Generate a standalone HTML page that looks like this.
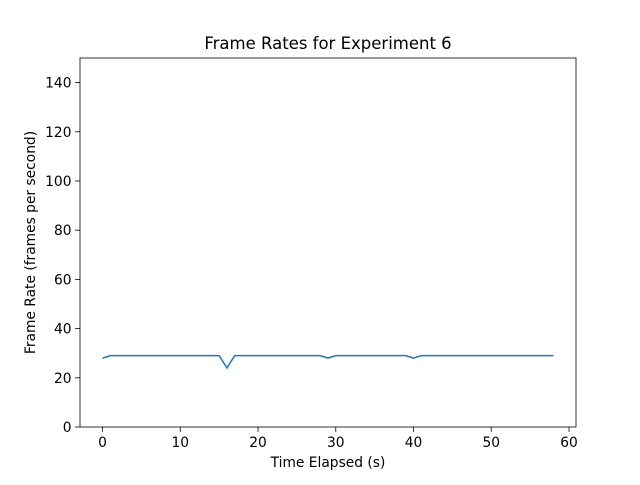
<!DOCTYPE html>
<html><head><meta charset="utf-8"><style>
body{margin:0;background:#fff;}
svg{font-family:"DejaVu Sans","Liberation Sans",sans-serif;}
</style></head><body>
<svg id="chart" width="640" height="480">
<rect width="640" height="480" fill="#fff"/>
<text x="328" y="49" text-anchor="middle" font-size="16.5">Frame Rates for Experiment 6</text>
<g id="xticks"></g>
<g id="yticks"></g>
<text x="328" y="467" text-anchor="middle" font-size="13.8">Time Elapsed (s)</text>
<text transform="translate(35,242.5) rotate(-90)" text-anchor="middle" font-size="13.8">Frame Rate (frames per second)</text>
<polyline id="line" fill="none" stroke="#1f77b4" stroke-width="1.5"/>
<rect x="80" y="58" width="496" height="369" fill="none" stroke="#000" stroke-width="0.8"/>
</svg>
<script>
const times = [0,1,2,3,4,5,6,7,8,9,10,11,12,13,14,15,16,17,18,19,20,21,22,23,24,25,26,27,28,29,30,31,32,33,34,35,36,37,38,39,40,41,42,43,44,45,46,47,48,49,50,51,52,53,54,55,56,57,58];
const frameRates = [28,29,29,29,29,29,29,29,29,29,29,29,29,29,29,29,24,29,29,29,29,29,29,29,29,29,29,29,29,28,29,29,29,29,29,29,29,29,29,29,28,29,29,29,29,29,29,29,29,29,29,29,29,29,29,29,29,29,29];
const xTicks = [0,10,20,30,40,50,60];
const yTicks = [0,20,40,60,80,100,120,140];
const L=80,R=576,T=58,B=427, xmin=-2.9,xmax=60.9,ymin=0,ymax=150;
const sx=v=>L+(v-xmin)/(xmax-xmin)*(R-L);
const sy=v=>B-(v-ymin)/(ymax-ymin)*(B-T);
const NS="http://www.w3.org/2000/svg";
const xg=document.getElementById('xticks'), yg=document.getElementById('yticks');
xTicks.forEach(t=>{
  const l=document.createElementNS(NS,'line');
  l.setAttribute('x1',sx(t));l.setAttribute('x2',sx(t));l.setAttribute('y1',B);l.setAttribute('y2',B+4.9);l.setAttribute('stroke','#000');l.setAttribute('stroke-width','0.8');
  
  
  xg.appendChild(l);
  const s=document.createElementNS(NS,'text');
  s.setAttribute('x',sx(t));s.setAttribute('y',B+20);s.setAttribute('text-anchor','middle');s.setAttribute('font-size','13.8');s.textContent=t;
  
  
  xg.appendChild(s);
});
yTicks.forEach(t=>{
  const l=document.createElementNS(NS,'line');
  l.setAttribute('x1',L-4.9);l.setAttribute('x2',L);l.setAttribute('y1',sy(t));l.setAttribute('y2',sy(t));l.setAttribute('stroke','#000');l.setAttribute('stroke-width','0.8');
  
  
  yg.appendChild(l);
  const s=document.createElementNS(NS,'text');
  s.setAttribute('x',L-8.5);s.setAttribute('y',sy(t)+5);s.setAttribute('text-anchor','end');s.setAttribute('font-size','13.8');s.textContent=t;
  
  
  yg.appendChild(s);
});
document.getElementById('line').setAttribute('points',times.map((t,i)=>sx(t)+','+sy(frameRates[i])).join(' '));
</script>
</body></html>
